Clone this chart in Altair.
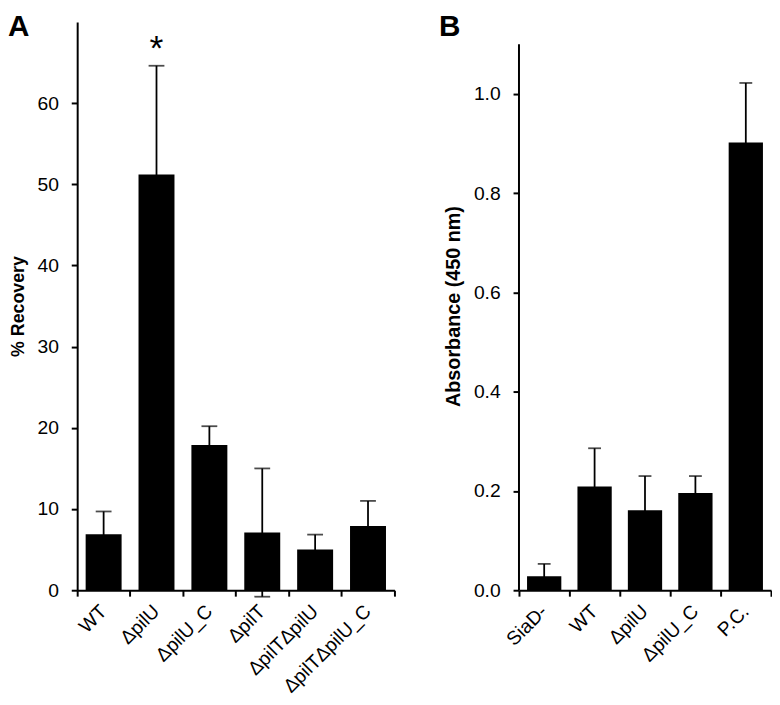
import altair as alt
import pandas as pd

# ---- data ----
a_categories = ["WT", "ΔpilU", "ΔpilU_C", "ΔpilT", "ΔpilTΔpilU", "ΔpilTΔpilU_C"]
a_means = [6.9, 51.2, 17.9, 7.1, 5.0, 7.9]
a_sd = [2.8, 13.4, 2.3, 7.9, 1.85, 3.1]
a_marks = ["", "*", "", "", "", ""]

b_categories = ["SiaD-", "WT", "ΔpilU", "ΔpilU_C", "P.C."]
b_means = [0.028, 0.209, 0.161, 0.196, 0.902]
b_sd = [0.025, 0.077, 0.069, 0.034, 0.12]

a_ticks = [0, 10, 20, 30, 40, 50, 60]
b_ticks = [0.0, 0.2, 0.4, 0.6, 0.8, 1.0]

FONT = "Liberation Sans"
H = 575


def make_panel(cats, means, sds, marks, width, domain, ticks, fmt, ytitle,
               title_size, letter, letter_x, cap, axis_top=None):
    df = pd.DataFrame({
        "cat": cats,
        "mean": means,
        "lo": [m - s for m, s in zip(means, sds)],
        "hi": [m + s for m, s in zip(means, sds)],
        "mark": marks,
    })
    x = alt.X(
        "cat:N", sort=cats,
        scale=alt.Scale(paddingInner=0, paddingOuter=0),
        axis=alt.Axis(
            title=None, labelAngle=-45, labelAlign="right", labelBaseline="middle",
            bandPosition=1, tickExtra=True,
            labelPadding=12, labelFontSize=19.5, labelFont=FONT, labelColor="black",
            tickSize=6, tickWidth=2, tickColor="black",
            domainWidth=2, domainColor="black",
        ),
    )
    yaxis = alt.Axis(
        title=ytitle, values=ticks, format=fmt, grid=False,
        labelFontSize=19.5, labelFont=FONT, labelColor="black", labelPadding=13,
        tickSize=6, tickWidth=2, tickColor="black",
        domain=axis_top is None, domainWidth=2, domainColor="black",
        titleFont=FONT, titleFontSize=title_size, titleFontWeight="bold",
        titleColor="black", titlePadding=10,
    )
    y = alt.Y("mean:Q", scale=alt.Scale(domain=domain, nice=False, zero=True), axis=yaxis)

    base = alt.Chart(df)
    bars = base.mark_bar(color="black", width=alt.RelativeBandSize(0.68)).encode(x=x, y=y)
    err = base.mark_rule(color="black", strokeWidth=1.8).encode(
        x=alt.X("cat:N", sort=cats), y="lo:Q", y2="hi:Q")
    cap_hi = base.mark_tick(color="black", orient="horizontal", size=cap, thickness=1.8).encode(
        x=alt.X("cat:N", sort=cats), y="hi:Q")
    cap_lo = base.mark_tick(color="black", orient="horizontal", size=cap, thickness=1.8).encode(
        x=alt.X("cat:N", sort=cats), y="lo:Q")
    layers = [bars, err, cap_hi, cap_lo]
    if any(marks):
        star = base.mark_text(font=FONT, fontSize=36, baseline="alphabetic", dy=-6,
                              color="black").encode(
            x=alt.X("cat:N", sort=cats), y="hi:Q", text="mark:N")
        layers.append(star)
    if axis_top is not None:
        line = alt.Chart(pd.DataFrame({"y0": [0.0], "y1": [axis_top]})).mark_rule(
            color="black", strokeWidth=2).encode(x=alt.value(0), y="y0:Q", y2="y1:Q")
        layers.append(line)
    lab = alt.Chart(pd.DataFrame({"t": [letter]})).mark_text(
        font=FONT, fontSize=30, fontWeight="bold", align="left", baseline="alphabetic",
        color="black").encode(text="t:N", x=alt.value(letter_x), y=alt.value(14))
    layers.append(lab)
    return alt.layer(*layers).properties(width=width, height=H)


panel_a = make_panel(a_categories, a_means, a_sd, a_marks, 321, [0, 70], a_ticks, "d",
                     "% Recovery", 18, "A", -70, 16)
panel_b = make_panel(b_categories, b_means, b_sd, [""] * 5, 255, [0, 1.145], b_ticks, ".1f",
                     "Absorbance (450 nm)", 20, "B", -81, 13, axis_top=1.1)

chart = alt.hconcat(panel_a, panel_b, spacing=44).properties(
    padding={"left": 0, "top": 0, "right": 0, "bottom": 0}
).configure_view(stroke=None)

chart.save("out.html", embed_options={"renderer": "svg", "actions": False})
